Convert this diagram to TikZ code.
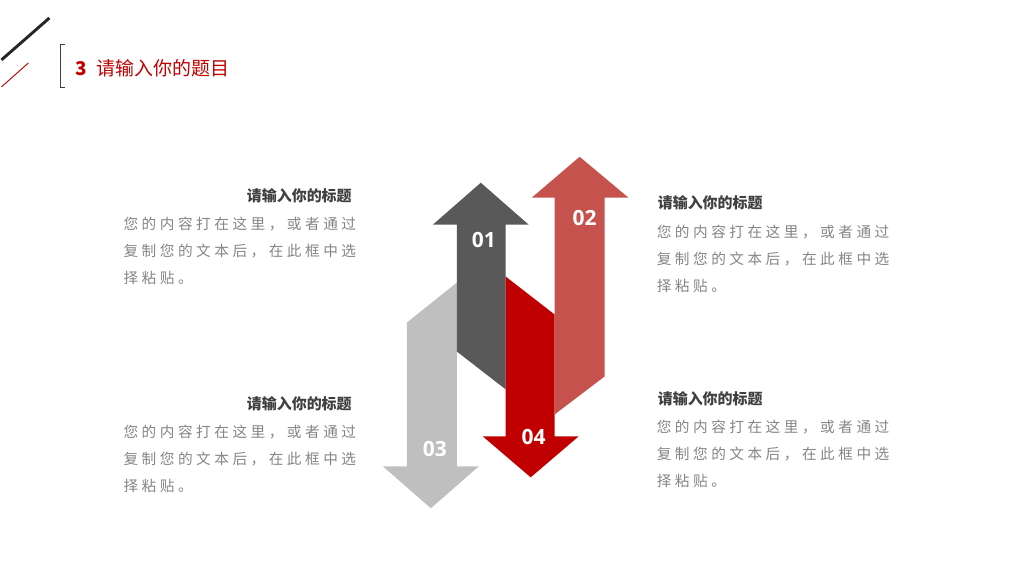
\documentclass[tikz,border=0pt]{standalone}
\usepackage{fontspec}
\setmainfont{Open Sans}
\newfontfamily\cjk{Noto Sans CJK SC}
\newfontfamily\cjkspaced[LetterSpace=24]{Noto Sans CJK SC}
\newfontfamily\numfont{Open Sans}
\definecolor{arrowdark}{HTML}{595959}
\definecolor{arrowrose}{HTML}{C5524C}
\definecolor{arrowred}{HTML}{C00000}
\definecolor{arrowlight}{HTML}{BFBFBF}
\definecolor{titlegray}{HTML}{404040}
\definecolor{bodygray}{HTML}{868686}
\definecolor{decoblack}{HTML}{262626}
\tikzset{
  numlabel/.style={text=white, inner sep=0pt, font=\numfont\bfseries\fontsize{15.75}{18}\selectfont},
  headtitle/.style={text=arrowred, inner sep=0pt, font=\cjk\fontsize{14.25}{17}\selectfont},
  blocktitle/.style={text=titlegray, inner sep=0pt, font=\cjk\bfseries\fontsize{11.25}{13}\selectfont},
  blockbody/.style={text=bodygray, inner sep=0pt, align=left, anchor=north west,
    font=\cjkspaced\fontsize{11}{20.25}\selectfont}
}
\begin{document}
\begin{tikzpicture}[x=0.75pt,y=-0.75pt]
        \fill[white] (0,0) rectangle (1024,576);
        % corner marks and header
        \draw[decoblack, line width=2.2pt] (0,60) -- (48,18);
        \draw[arrowred, line width=0.7pt] (0,87) -- (27,63);
        \draw[titlegray, line width=0.8pt] (64,45) -- (59,45) -- (59,88) -- (64,88);
        \node[headtitle, anchor=west] (head) at (73.5,68) {\textbf{3}\hspace{7.5pt}请输入你的题目};
        % arrows
        \fill[arrowlight] (406,323) -- (456,283) -- (456,467) -- (478,467)
            -- (430,509) -- (382,467) -- (406,467) -- cycle;
        \fill[arrowdark] (456,352) -- (456,225) -- (432,225) -- (480,183)
            -- (528,225) -- (505,225) -- (505,390) -- cycle;
        \fill[arrowred] (505,277) -- (554,315) -- (554,437) -- (578,437)
            -- (530,478) -- (482,437) -- (505,437) -- cycle;
        \fill[arrowrose] (554,415) -- (554,198) -- (531,198) -- (579,157)
            -- (628,198) -- (604,198) -- (604,377) -- cycle;
        \node[numlabel] (n01) at (483,240) {01};
        \node[numlabel] (n02) at (584,218) {02};
        \node[numlabel] (n03) at (434,450) {03};
        \node[numlabel] (n04) at (533,438) {04};
        % text blocks
        \node[blocktitle, anchor=east] (lt-title) at (351,196) {请输入你的标题};
        \node[blockbody] (lt-body) at (122,217.5) {您的内容打在这里，或者通过\\复制您的文本后，在此框中选\\择粘贴。};
        \node[blocktitle, anchor=west] (rt-title) at (657,203) {请输入你的标题};
        \node[blockbody] (rt-body) at (656,225.5) {您的内容打在这里，或者通过\\复制您的文本后，在此框中选\\择粘贴。};
        \node[blocktitle, anchor=east] (lb-title) at (351,404) {请输入你的标题};
        \node[blockbody] (lb-body) at (122,425.5) {您的内容打在这里，或者通过\\复制您的文本后，在此框中选\\择粘贴。};
        \node[blocktitle, anchor=west] (rb-title) at (657,399) {请输入你的标题};
        \node[blockbody] (rb-body) at (656,420.5) {您的内容打在这里，或者通过\\复制您的文本后，在此框中选\\择粘贴。};
\end{tikzpicture}
\end{document}
